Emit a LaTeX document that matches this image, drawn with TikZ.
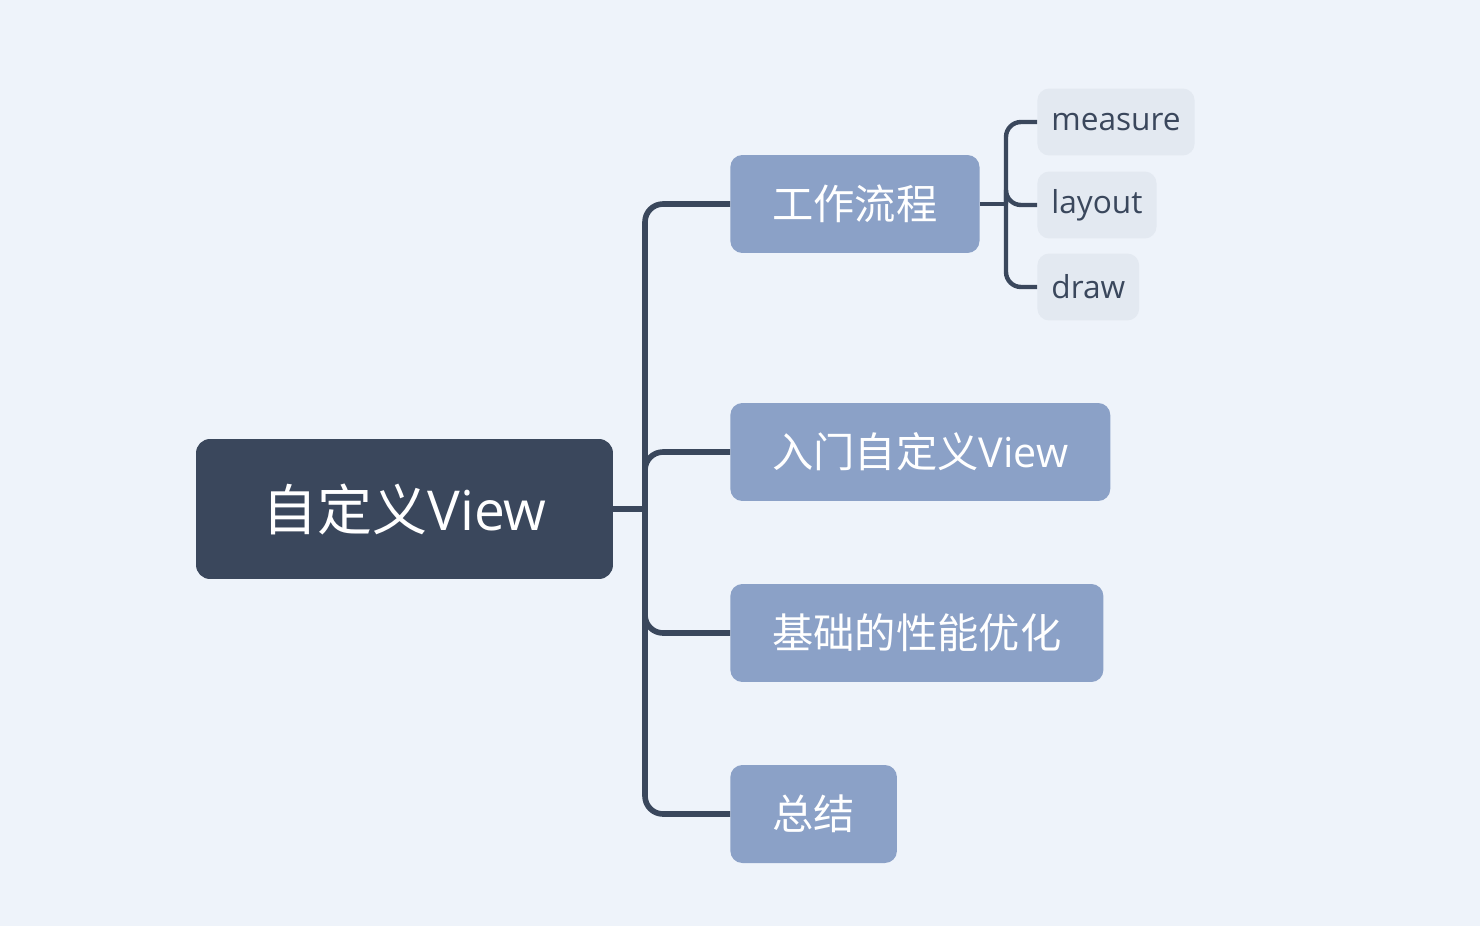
\documentclass[tikz,border=0pt]{standalone}
\usepackage{fontspec}
\setmainfont{Open Sans}
\newfontfamily\cjk{Noto Sans CJK SC}
\usepackage{xcolor}
\usetikzlibrary{positioning,calc}

\definecolor{bgcol}{HTML}{EEF3FA}
\definecolor{rootcol}{HTML}{3A475C}
\definecolor{maincol}{HTML}{8BA1C7}
\definecolor{subcol}{HTML}{E3E9F1}

\begin{document}
\begin{tikzpicture}[
    x=0.02cm, y=-0.02cm,
    root/.style={rectangle, rounded corners=0.28cm, fill=rootcol, text=white, minimum width=8.34cm, minimum height=2.8cm, font=\fontsize{31.3pt}{35pt}\selectfont},
    topic/.style={rectangle, rounded corners=0.24cm, fill=maincol, text=white, anchor=west, inner xsep=0.84cm, minimum height=1.96cm, font=\fontsize{23.5pt}{27pt}\selectfont},
    subtopic/.style={rectangle, rounded corners=0.24cm, fill=subcol, text=rootcol, anchor=west, inner xsep=0.28cm, minimum height=1.34cm, font=\fontsize{18pt}{21pt}\selectfont},
    link/.style={draw=rootcol, line width=3.2pt, rounded corners=0.36cm},
    sublink/.style={draw=rootcol, line width=2.5pt, rounded corners=0.3cm},
]
    \fill[bgcol] (0,0) rectangle (1480,926);
    \useasboundingbox (0,0) rectangle (1480,926);

    \node[root] (view) at (404.5,509) {{\cjk 自定义}View};
    \node[topic] (flow) at (730,204) {\cjk 工作流程};
    \node[topic] (intro) at (730,452) {{\cjk 入门自定义}View};
    \node[topic] (perf) at (730,633) {\cjk 基础的性能优化};
    \node[topic] (sum) at (730,814) {\cjk 总结};
    \node[subtopic] (measure) at (1037,122) {\raisebox{-1.5pt}{measure}};
    \node[subtopic] (layout) at (1037,205) {\raisebox{-1.5pt}{layout}};
    \node[subtopic] (draw) at (1037,287) {\raisebox{-1.5pt}{draw}};

    \coordinate (trunk) at (645,509);
    \coordinate (subtrunk) at (1006,204);

    % main branches
    \draw[link] (view.east) -- (trunk);
    \draw[link] (trunk) |- (flow.west);
    \draw[link] (trunk) |- (intro.west);
    \draw[link] (trunk) |- (perf.west);
    \draw[link] (trunk) |- (sum.west);

    % work flow steps
    \draw[sublink] (flow.east) -- (subtrunk);
    \draw[sublink] (subtrunk) |- (measure.west);
    \draw[sublink] (subtrunk) |- (layout.west);
    \draw[sublink] (subtrunk) |- (draw.west);
\end{tikzpicture}
\end{document}
